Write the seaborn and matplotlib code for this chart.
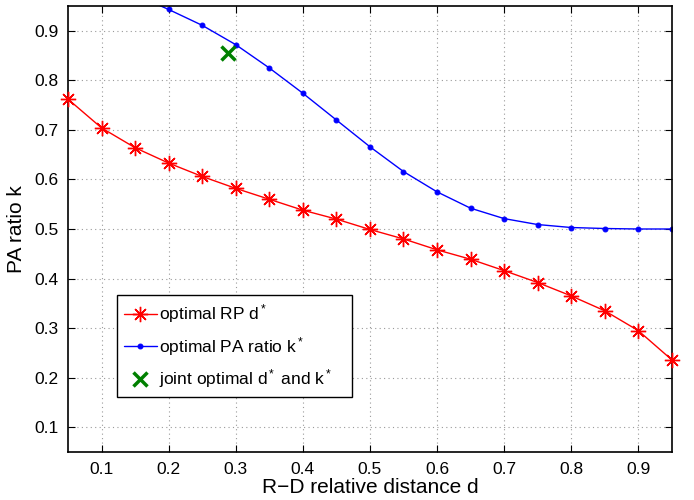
import numpy as np
import pandas as pd
import matplotlib
matplotlib.use("Agg")
import matplotlib.pyplot as plt
import seaborn as sns

# Data
d_values = [0.05, 0.10, 0.15, 0.20, 0.25, 0.30, 0.35, 0.40, 0.45, 0.50,
            0.55, 0.60, 0.65, 0.70, 0.75, 0.80, 0.85, 0.90, 0.95]
rp_opt = [0.762, 0.704, 0.664, 0.633, 0.606, 0.582, 0.560, 0.538, 0.520, 0.499,
          0.480, 0.458, 0.439, 0.416, 0.392, 0.365, 0.335, 0.295, 0.236]
pa_opt = [1.000, 0.995, 0.973, 0.943, 0.911, 0.872, 0.825, 0.774, 0.720, 0.666,
          0.616, 0.575, 0.542, 0.521, 0.509, 0.503, 0.501, 0.500, 0.500]
joint_d = [0.289]
joint_k = [0.855]

df = pd.DataFrame({'d': d_values, 'rp': rp_opt, 'pa': pa_opt})

sns.set_style("ticks")
plt.rcParams['font.family'] = ['Liberation Sans', 'DejaVu Sans']
plt.rcParams['mathtext.fontset'] = 'custom'
plt.rcParams['mathtext.rm'] = 'Liberation Sans'
plt.rcParams['mathtext.it'] = 'Liberation Sans'
plt.rcParams['text.color'] = 'black'
plt.rcParams['axes.labelcolor'] = 'black'
plt.rcParams['xtick.color'] = 'black'
plt.rcParams['ytick.color'] = 'black'

fig = plt.figure(figsize=(6.94, 5.0), dpi=100)
ax = fig.add_axes([0.098, 0.096, 0.870, 0.892])

asterisk = (8, 2, 0)
sns.lineplot(data=df, x='d', y='rp', ax=ax, color='red', lw=1,
             marker=asterisk, markersize=11, markeredgewidth=1.0, markeredgecolor='red',
             label='optimal RP d$^*$', clip_on=False, zorder=5)
sns.lineplot(data=df, x='d', y='pa', ax=ax, color='blue', lw=1,
             marker='.', markersize=7, markeredgecolor='blue',
             label='optimal PA ratio k$^*$')
ax.plot(joint_d, joint_k, ls='none', marker='x', color='green',
        markersize=10, markeredgewidth=2.5, label='joint optimal d$^*$ and k$^*$')

ticks = np.arange(0.1, 0.95, 0.1)
ax.set_xlim(0.05, 0.95)
ax.set_ylim(0.05, 0.95)
ax.set_xticks(ticks)
ax.set_yticks(ticks)
ax.set_xticklabels([f'{v:.1f}' for v in ticks])
ax.set_yticklabels([f'{v:.1f}' for v in ticks])
ax.tick_params(direction='in', top=True, right=True, labelsize=12.5, length=5, pad=7)
ax.grid(True, ls=(0, (1, 3)), color='#9a9a9a', lw=0.8)
for sp in ax.spines.values():
    sp.set_linewidth(1.2)
    sp.set_color('black')

ax.set_xlabel('R\u2212D relative distance d', fontsize=15, labelpad=1)
ax.set_ylabel('PA ratio k', fontsize=15, labelpad=6)

leg = ax.legend(loc='lower left', bbox_to_anchor=(0.081, 0.123, 0.389, 0.234),
                mode='expand', fontsize=12.5, frameon=True, fancybox=False,
                edgecolor='black', framealpha=1, borderpad=0.4,
                handlelength=1.9, handletextpad=0.15, labelspacing=0.55,
                borderaxespad=0)
leg.get_frame().set_linewidth(1.0)

fig.savefig('out.png', dpi=100)
